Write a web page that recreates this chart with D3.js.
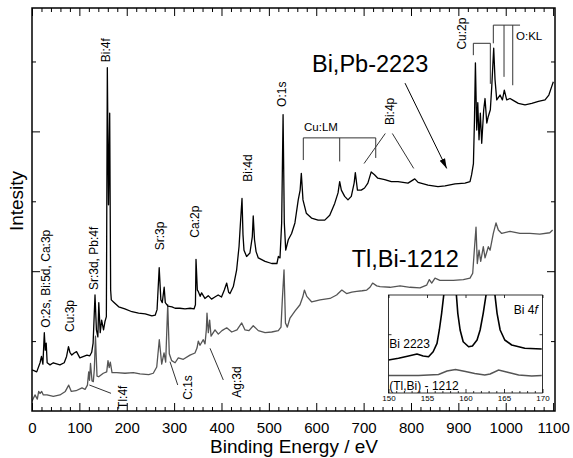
<!DOCTYPE html>
<html>
<head>
<meta charset="utf-8">
<script src="https://cdn.jsdelivr.net/npm/d3@7"></script>
<style>
  body { margin: 0; background: #fff; }
  svg { display: block; font-family: "Liberation Sans", Arial, sans-serif; }
</style>
</head>
<body>
<svg id="chart" width="573" height="458"></svg>
<script>
// XPS survey spectra (binding energy in eV, intensity in arb. units)
var bpEnergy = [0,10,17,20,23,26,28,30,32,38,45,59,68,73,77,80,84,89,94,101,116,122,126,129,133,136,139,141,144,147,
  151,154,157,159,161.5,164,166,167.4,172,183,196,211,225,239,253,260,264,268.5,272,275,279,281.4,287,295.5,302,312,323,334,342,345,
  346.2,349,351,355,358,365,372,379,386,393,400,406,411,415,418,425,432,437,440,443.3,445.4,447.5,453,460,465,467,469.7,473,477.7,492,
  506,517,520,523.5,527,530,532.6,535.6,541,548,555,562,566,568.5,572,579,590,604,618,628.5,639,646,649.5,653,660,667,674,680,682.5,687,
  695,702,709,716,723,730,744.5,758.5,772.6,793.7,808,815,836,857,872,893,914,924.6,928,931.8,934,936,938.8,941,943.6,946.4,949.3,953.5,956.3,960,
  963,967.5,970.5,974.6,977.4,981,988,993,997,1002,1009,1014,1026.6,1040.7,1055,1069,1083,1091,1097,1100.5];
var bpCounts = [5.9,5.6,6.9,7.8,6.7,11.2,8.7,9.7,6.9,6.6,6.9,6.6,6.9,7.8,9.2,8.4,8.0,8.3,8.5,7.6,8.0,7.9,8.4,9.7,16.6,11.6,10.6,15.5,11.2,13.0,
  11.6,12.8,13.5,49.1,29.5,42.6,17.3,15.9,15.6,14.9,14.6,14.2,14.0,13.9,13.6,13.7,14.5,20.5,15.9,15.5,17.7,15.5,15.0,14.9,14.7,14.7,14.6,14.7,14.6,15.2,
  21.7,17.3,17.1,16.4,16.9,16.1,16.5,16.0,16.3,16.6,16.3,17.3,18.3,17.0,16.8,17.8,20.2,23.5,26.9,30.4,25.2,23.0,22.1,22.6,24.9,27.9,24.5,22.8,21.9,21.4,
  21.1,21.1,22.1,21.9,26.9,42.4,26.9,23.0,24.5,25.4,26.9,30.2,31.6,34.0,30.2,28.3,27.6,27.3,27.3,28.0,29.7,31.2,32.8,31.6,30.7,30.2,30.7,32.6,34.1,31.6,
  31.6,31.9,32.6,34.2,33.8,33.3,33.1,32.8,32.8,32.6,33.2,32.7,32.3,32.1,32.2,32.5,32.6,32.8,33.8,35.4,41.6,49.8,40.2,44.1,38.8,42.6,38.3,43.1,44.7,41.2,
  42.1,43.1,46.4,51.9,47.4,44.5,45.2,44.5,45.9,44.5,44.7,44.5,44.0,43.8,44.0,44.3,44.5,45.2,46.4,47.1];

var tlEnergy = [0,6.3,11.2,14.1,16.9,20.5,23.9,31.7,45,59,70.3,77.5,83,92.9,105.6,112,117,119.7,121.4,123.5,
  126.7,129.4,131.5,134,137.2,140.8,150.5,157.7,160.4,163,165.3,168.9,178.8,196.3,213.8,228,246.4,256,263.3,268.7,
  273.8,278.7,282.2,286.5,289.8,294.9,302,308.8,319.4,333.5,344,348.3,351,354.6,361.6,365.2,368,369.4,372.2,375,
  378,386.3,393.3,401,411,421.6,432.7,442.7,449.6,458,467,477.7,492,506,520,525.6,528.4,532,535,539,
  544.6,555,565.7,571.5,575,580,590.5,608,618.5,629,643,654,664,675,685.4,697,706.6,713.5,719,727.7,
  734.6,755.7,777,798,819,833,838.7,843.8,850.7,861,875.4,889.4,910.5,924.6,930.3,933.7,937.3,940,943.6,947.2,
  952.7,956.3,963.3,967,973.8,979.5,984.4,991.5,1009,1030,1051,1072,1093,1099];
var tlCounts = [1.4,2.3,1.7,2.8,2.5,2.8,2.3,2.3,2.1,2.3,2.8,3.7,2.8,2.9,3.3,3.1,3.7,5.6,4.4,6.8,
  4.3,4.2,5.9,10.7,5.0,4.9,5.4,5.6,7.2,6.2,7.0,5.5,5.5,5.4,5.5,5.3,5.2,5.4,6.3,10.2,
  6.7,8.3,7.0,15.2,8.2,7.2,6.9,7.6,7.4,8.0,8.3,9.0,10.0,9.4,10.2,9.6,11.6,14.0,11.2,13.0,
  10.7,11.6,11.0,11.5,11.9,11.3,11.6,12.6,11.6,11.5,12.2,11.5,11.2,11.3,11.5,12.0,15.9,20.2,12.6,12.0,
  13.3,14.3,15.2,16.3,17.3,16.4,15.6,15.9,16.0,16.1,16.6,17.3,16.8,17.0,17.1,17.2,17.3,17.7,18.3,17.9,
  17.8,17.7,17.9,17.7,17.6,18.0,18.8,18.3,19.0,18.7,18.7,18.7,18.8,19.0,19.7,23.0,26.3,21.1,23.0,21.4,
  23.5,21.9,23.5,23.0,25.4,26.9,25.9,25.4,25.7,25.4,25.4,25.3,25.5,25.9];

// inset: Bi 4f region
var inBpEnergy = [150,151.3,152.6,153.7,154.5,155.2,155.8,156.3,156.6,156.9,157.2,157.5,158,158.5,158.8,159,159.3,159.7,160.4,160.9,
  161.5,161.9,162.3,162.7,163,163.3,163.6,163.8,164.1,164.5,165.1,166,167.7,169.9];
var inBpCounts = [33.7,35.4,37.8,39.8,37.8,37.0,42.1,50.7,64.3,81.3,101.7,150,240,150,101.7,81.3,64.3,52.3,47.2,48.0,
  54.1,64.3,81.3,101.7,150,200,150,101.7,81.3,64.3,54.1,49.0,45.6,44.9];
var inTlEnergy = [150,153.9,156.5,157.6,158.7,160,161.2,162.5,163.2,164.3,165.6,166.9,168.6,169.9];
var inTlCounts = [17.9,17.9,18.9,22.4,24.0,21.9,19.9,18.4,19.4,23.5,20.9,18.4,17.3,17.9];

// ticks
var xMajor = d3.range(0, 1101, 100);
var xMinor = d3.range(0, 1101, 20).filter(function (v) { return v % 100 != 0; });
var yMajor = [20, 40];
var yMinor = [10, 30, 50];
var inMajor = [150, 155, 160, 165, 170];
var inMinor = d3.range(150, 171, 1).filter(function (v) { return v % 5 != 0; });

// peak labels (rotated), anchored at bottom of text
var peakNames = ["O:2s, Bi:5d, Ca:3p", "Cu:3p", "Sr:3d, Pb:4f", "Bi:4f", "Sr:3p", "Ca:2p", "Bi:4d", "O:1s", "Bi:4p", "Cu:2p", "Tl:4f", "C:1s", "Ag:3d"];
var peakLabelE = [38, 88.7, 139.3, 164.7, 278.7, 352.5, 464.4, 536.2, 764.2, 916.2, 200.5, 337.8, 441.2];
var peakLabelI = [11.9, 11.3, 17.3, 49.9, 23.0, 24.8, 32.8, 43.5, 40.9, 51.7, 0.3, 1.6, 1.9];

var svg = d3.select("#chart");
var W = 573, H = 458;
var plotL = 32, plotR = 555, plotT = 8, plotB = 411;

var x = d3.scaleLinear().domain([0, 1104]).range([plotL, plotR]);
var y = d3.scaleLinear().domain([0, 57.65]).range([plotB, plotT]);

svg.append("rect").attr("width", W).attr("height", H).attr("fill", "#fff");

var defs = svg.append("defs");
defs.append("clipPath").attr("id", "plotClip")
  .append("rect").attr("x", plotL).attr("y", plotT).attr("width", plotR - plotL).attr("height", plotB - plotT);

// AXES (ticks pointing inward)
function styleAxis(g) {
  g.select(".domain").remove();
  g.selectAll("line").attr("stroke", "#000").attr("stroke-width", 1);
  g.selectAll("text").attr("font-size", "15px").attr("fill", "#000").attr("font-family", "Liberation Sans, Arial, sans-serif");
}
svg.append("g").attr("transform", "translate(0," + plotB + ")")
  .call(d3.axisBottom(x).tickValues(xMajor).tickSize(-8).tickPadding(11).tickFormat(d3.format("d"))).call(styleAxis);
svg.append("g").attr("transform", "translate(0," + plotB + ")")
  .call(d3.axisBottom(x).tickValues(xMinor).tickSize(-4).tickFormat("")).call(styleAxis);
svg.append("g").attr("transform", "translate(0," + plotT + ")")
  .call(d3.axisTop(x).tickValues(xMajor).tickSize(-8).tickFormat("")).call(styleAxis);
svg.append("g").attr("transform", "translate(0," + plotT + ")")
  .call(d3.axisTop(x).tickValues(xMinor).tickSize(-4).tickFormat("")).call(styleAxis);
svg.append("g").attr("transform", "translate(" + plotL + ",0)")
  .call(d3.axisLeft(y).tickValues(yMajor).tickSize(-8).tickFormat("")).call(styleAxis);
svg.append("g").attr("transform", "translate(" + plotL + ",0)")
  .call(d3.axisLeft(y).tickValues(yMinor).tickSize(-4).tickFormat("")).call(styleAxis);
svg.append("g").attr("transform", "translate(" + plotR + ",0)")
  .call(d3.axisRight(y).tickValues(yMajor).tickSize(-8).tickFormat("")).call(styleAxis);
svg.append("g").attr("transform", "translate(" + plotR + ",0)")
  .call(d3.axisRight(y).tickValues(yMinor).tickSize(-4).tickFormat("")).call(styleAxis);

// SPECTRA
var line = d3.line().x(function (d) { return x(d[0]); }).y(function (d) { return y(d[1]); });
var tlData = d3.zip(tlEnergy, tlCounts);
var bpData = d3.zip(bpEnergy, bpCounts);

svg.append("path").datum(tlData).attr("d", line).attr("clip-path", "url(#plotClip)")
  .attr("fill", "none").attr("stroke", "#555").attr("stroke-width", 1.3).attr("stroke-linejoin", "round");
svg.append("path").datum(bpData).attr("d", line).attr("clip-path", "url(#plotClip)")
  .attr("fill", "none").attr("stroke", "#000").attr("stroke-width", 1.3).attr("stroke-linejoin", "round");

// frame
svg.append("rect").attr("x", plotL).attr("y", plotT).attr("width", plotR - plotL).attr("height", plotB - plotT)
  .attr("fill", "none").attr("stroke", "#000").attr("stroke-width", 1.5);

// PEAK LABELS
peakNames.forEach(function (name, i) {
  svg.append("text")
    .attr("transform", "translate(" + x(peakLabelE[i]) + "," + y(peakLabelI[i]) + ") rotate(-90)")
    .attr("font-size", "12px").attr("fill", "#000")
    .text(name);
});

// brackets and pointer lines
var guideLines = [
  [[572.7, 35.9], [572.7, 39.07], [725.6, 39.07], [725.6, 36.2]],
  [[649.5, 39.07], [649.5, 35.7]],
  [[931.6, 50.9], [931.6, 52.6], [967.5, 52.6], [967.5, 46.8]],
  [[973.8, 52.6], [973.8, 55.2], [1030.2, 55.2]],
  [[996.4, 55.2], [996.4, 47.8]],
  [[1014.8, 55.2], [1014.8, 46.6]],
  [[121, 3.72], [166.8, 2.53]],
  [[291.3, 7.05], [307.6, 3.72]],
  [[375.8, 8.97], [403.8, 4.44]],
  [[745.8, 39.7], [700.9, 35.4]],
  [[760.6, 39.7], [805.8, 34.7]]
];
guideLines.forEach(function (pts) {
  svg.append("path").datum(pts).attr("d", line)
    .attr("fill", "none").attr("stroke", "#333").attr("stroke-width", 1);
});

svg.append("text").attr("x", x(574.2)).attr("y", y(40.0)).attr("font-size", "11.5px").text("Cu:LM");
svg.append("text").attr("x", x(1021.7)).attr("y", y(53.1)).attr("font-size", "11.5px").text("O:KL");

// SERIES LABELS
svg.append("text").attr("x", x(591)).attr("y", y(48.5)).attr("font-size", "23.5px").text("Bi,Pb-2223");
svg.append("text").attr("x", x(675)).attr("y", y(20.6)).attr("font-size", "23.5px").text("Tl,Bi-1212");

defs.append("marker").attr("id", "arrow")
  .attr("markerUnits", "userSpaceOnUse").attr("markerWidth", 10).attr("markerHeight", 8)
  .attr("refX", 10).attr("refY", 4).attr("orient", "auto")
  .append("path").attr("d", "M0,1 L10,4 L0,7 Z").attr("fill", "#000");
svg.append("path").datum([[787.4, 46.9], [875.4, 34.7]]).attr("d", line)
  .attr("stroke", "#000").attr("stroke-width", 1).attr("marker-end", "url(#arrow)");

// AXIS TITLES
svg.append("text").attr("x", 294).attr("y", 453).attr("text-anchor", "middle")
  .attr("font-size", "19px").text("Binding Energy / eV");
svg.append("text").attr("transform", "translate(23,201) rotate(-90)").attr("text-anchor", "middle")
  .attr("font-size", "19px").text("Intesity");

// INSET
var inL = 388.5, inR = 542.5, inT = 295, inB = 393;
var ix = d3.scaleLinear().domain([150, 170]).range([inL, inR]);
var iy = d3.scaleLinear().domain([0, 100]).range([inB, inT]);
var inset = svg.append("g");
inset.append("rect").attr("x", inL).attr("y", inT).attr("width", inR - inL).attr("height", inB - inT)
  .attr("fill", "#fff");
defs.append("clipPath").attr("id", "insetClip")
  .append("rect").attr("x", inL).attr("y", inT).attr("width", inR - inL).attr("height", inB - inT);

var iline = d3.line().x(function (d) { return ix(d[0]); }).y(function (d) { return iy(d[1]); });
inset.append("path").datum(d3.zip(inTlEnergy, inTlCounts)).attr("d", iline).attr("clip-path", "url(#insetClip)")
  .attr("fill", "none").attr("stroke", "#555").attr("stroke-width", 1.5);
inset.append("path").datum(d3.zip(inBpEnergy, inBpCounts)).attr("d", iline).attr("clip-path", "url(#insetClip)")
  .attr("fill", "none").attr("stroke", "#000").attr("stroke-width", 1.6).attr("stroke-linejoin", "round");

function styleInset(g) {
  g.select(".domain").remove();
  g.selectAll("line").attr("stroke", "#000").attr("stroke-width", 0.8);
  g.selectAll("text").attr("font-size", "8px").attr("fill", "#000").attr("font-family", "Liberation Sans, Arial, sans-serif");
}
inset.append("g").attr("transform", "translate(0," + inB + ")")
  .call(d3.axisBottom(ix).tickValues(inMajor).tickSize(-4).tickPadding(2).tickFormat(d3.format("d"))).call(styleInset);
inset.append("g").attr("transform", "translate(0," + inB + ")")
  .call(d3.axisBottom(ix).tickValues(inMinor).tickSize(-2).tickFormat("")).call(styleInset);
inset.append("g").attr("transform", "translate(0," + inT + ")")
  .call(d3.axisTop(ix).tickValues(inMajor).tickSize(-3).tickFormat("")).call(styleInset);
inset.append("g").attr("transform", "translate(" + inL + ",0)")
  .call(d3.axisLeft(iy).tickValues([60]).tickSize(-3).tickFormat("")).call(styleInset);
inset.append("g").attr("transform", "translate(" + inR + ",0)")
  .call(d3.axisRight(iy).tickValues([60]).tickSize(-3).tickFormat("")).call(styleInset);

inset.append("rect").attr("x", inL).attr("y", inT).attr("width", inR - inL).attr("height", inB - inT)
  .attr("fill", "none").attr("stroke", "#000").attr("stroke-width", 0.8);

var bi4f = inset.append("text").attr("x", ix(169.4)).attr("y", iy(81)).attr("text-anchor", "end").attr("font-size", "12px");
bi4f.append("tspan").text("Bi 4");
bi4f.append("tspan").attr("font-style", "italic").text("f");
inset.append("text").attr("x", ix(150.1)).attr("y", iy(46)).attr("font-size", "12px").text("Bi 2223");
inset.append("text").attr("x", ix(150.1)).attr("y", iy(3)).attr("font-size", "12px").text("(Tl,Bi) - 1212");
</script>
</body>
</html>
